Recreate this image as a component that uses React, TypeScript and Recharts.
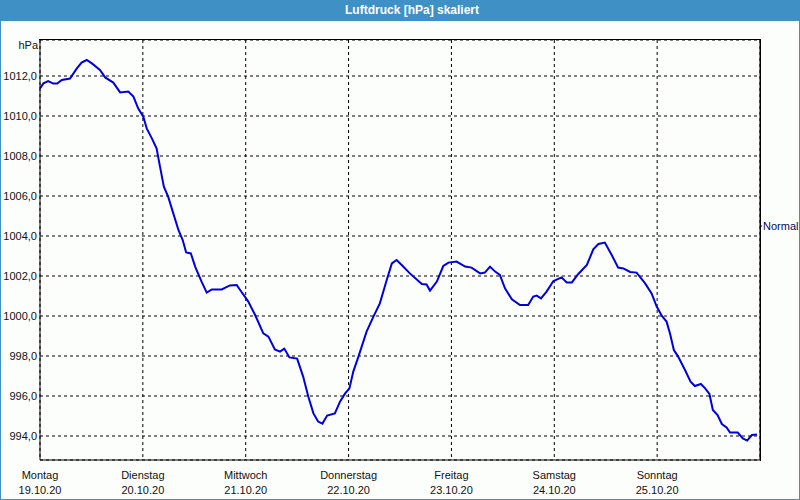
import { CartesianGrid, Line, LineChart, XAxis, YAxis } from "recharts";

// hours since Monday 19.10.20 00:00
const hours = [
  0, 0.8, 1.9, 3.1, 4.0, 5.1, 7.0, 8.6, 9.7, 10.9, 12.1, 14.0, 15.2, 17.1, 18.7, 20.6, 21.8, 22.9,
  24.1, 24.9, 26.1, 27.2, 28.0, 28.9, 29.9, 31.1, 32.3, 33.3, 34.1, 35.2, 36.2, 37.7, 38.9, 40.1,
  42.4, 44.3, 45.9, 46.7, 47.8, 48.6, 50.2, 52.1, 53.3, 54.8, 56.0, 57.0, 58.2, 60.0, 61.4, 62.6,
  63.8, 64.9, 65.9, 67.0, 68.8, 70.0, 71.2, 72.2, 73.1, 74.3, 76.2, 77.8, 79.3, 80.9, 82.1, 83.2,
  84.4, 86.3, 89.1, 90.2, 91.0, 92.6, 94.1, 95.3, 97.2, 99.2, 100.7, 102.7, 103.8, 105.0, 106.2,
  107.3, 108.5, 110.1, 112.0, 113.9, 115.1, 115.9, 116.9, 118.2, 119.8, 121.7, 122.9, 124.1,
  125.6, 127.6, 129.1, 130.3, 131.8, 133.4, 134.9, 136.1, 137.7, 139.2, 141.2, 142.7, 143.9,
  145.1, 146.2, 147.0, 147.9, 148.9, 150.5, 151.8, 152.8, 154.2, 155.2, 156.2, 157.0, 158.1,
  159.1, 160.2, 161.0, 162.8, 164.0, 165.0, 166.1, 167.3,
];

const pressure = [
  1011.38, 1011.63, 1011.75, 1011.62, 1011.62, 1011.8, 1011.87, 1012.38, 1012.67, 1012.8, 1012.63,
  1012.3, 1011.93, 1011.67, 1011.18, 1011.22, 1010.97, 1010.38, 1009.97, 1009.38, 1008.88,
  1008.38, 1007.47, 1006.47, 1005.97, 1005.13, 1004.3, 1003.8, 1003.18, 1003.13, 1002.47,
  1001.72, 1001.17, 1001.33, 1001.33, 1001.53, 1001.55, 1001.3, 1000.97, 1000.72, 1000.05,
  999.13, 998.97, 998.33, 998.22, 998.37, 997.93, 997.87, 996.97, 995.97, 995.13, 994.72, 994.62,
  995.02, 995.13, 995.72, 996.13, 996.38, 997.22, 997.97, 999.22, 999.97, 1000.63, 1001.8,
  1002.63, 1002.8, 1002.55, 1002.13, 1001.6, 1001.58, 1001.27, 1001.72, 1002.5, 1002.67, 1002.72,
  1002.47, 1002.42, 1002.13, 1002.17, 1002.47, 1002.22, 1002.05, 1001.38, 1000.83, 1000.55,
  1000.55, 1000.97, 1001.02, 1000.88, 1001.22, 1001.75, 1001.93, 1001.68, 1001.68, 1002.1,
  1002.55, 1003.33, 1003.6, 1003.67, 1003.05, 1002.42, 1002.38, 1002.2, 1002.17, 1001.63,
  1001.13, 1000.47, 1000.0, 999.72, 999.13, 998.3, 997.97, 997.3, 996.72, 996.5, 996.6, 996.38,
  996.1, 995.3, 995.05, 994.6, 994.43, 994.17, 994.17, 993.88, 993.77, 994.05, 994.08,
];

const dayTicks = [0, 24, 48, 72, 96, 120, 144];
const dayNames = ["Montag", "Dienstag", "Mittwoch", "Donnerstag", "Freitag", "Samstag", "Sonntag"];
const dayDates = ["19.10.20", "20.10.20", "21.10.20", "22.10.20", "23.10.20", "24.10.20", "25.10.20"];
const pressureTicks = [994, 996, 998, 1000, 1002, 1004, 1006, 1008, 1010, 1012];
const normalPressure = [1004.5];

const Y_MIN = 992.8;
const Y_MAX = 1013.8;

const data = hours.map((t, i) => ({ t, p: pressure[i] }));

const FONT = "'Liberation Sans', Arial, sans-serif";

const DayTick = ({ x, y, payload }: any) => {
  const i = dayTicks.indexOf(payload.value);
  return (
    <g transform={`translate(${x},${y})`}>
      <text textAnchor="middle" fontSize={11} fontFamily={FONT} fill="#111">
        <tspan x={0} y={19}>{dayNames[i]}</tspan>
        <tspan x={0} y={34}>{dayDates[i]}</tspan>
      </text>
    </g>
  );
};

export default function App() {
  return (
    <div
      style={{
        position: "fixed",
        left: 0,
        top: 0,
        width: 800,
        height: 500,
        boxSizing: "border-box",
        border: "1px solid #3e90c5",
        background: "#fcfefc",
        fontFamily: FONT,
      }}
    >
      <div
        style={{
          height: 20,
          background: "#3e90c5",
          color: "#fff",
          fontWeight: "bold",
          fontSize: 12,
          lineHeight: "19px",
          textAlign: "center",
          paddingLeft: 24,
        }}
      >
        Luftdruck [hPa] skaliert
      </div>
      <div
        style={{
          position: "absolute",
          left: 0,
          top: 38,
          width: 37,
          textAlign: "right",
          fontSize: 11,
          color: "#111",
        }}
      >
        hPa
      </div>
      <div style={{ position: "absolute", left: -1, top: -1 }}>
        <LineChart width={800} height={500} data={data} margin={{ top: 40, right: 0, bottom: 0, left: 0 }}>
          <CartesianGrid yAxisId="left" stroke="#000" strokeDasharray="3 3" />
          <XAxis
            dataKey="t"
            type="number"
            domain={[0, 168]}
            ticks={dayTicks}
            height={40}
            tickLine={false}
            tickSize={0}
            tickMargin={0}
            tick={<DayTick />}
            axisLine={{ stroke: "#000" }}
            interval={0}
          />
          <YAxis
            yAxisId="left"
            type="number"
            domain={[Y_MIN, Y_MAX]}
            allowDataOverflow
            ticks={pressureTicks}
            width={40}
            tickLine={false}
            tickSize={0}
            tickMargin={3}
            interval={0}
            tickFormatter={(v: number) => v.toFixed(1).replace(".", ",")}
            tick={{ fill: "#111", fontSize: 11, fontFamily: FONT }}
            axisLine={{ stroke: "#000" }}
          />
          <YAxis
            yAxisId="right"
            type="number"
            orientation="right"
            domain={[Y_MIN, Y_MAX]}
            allowDataOverflow
            ticks={normalPressure}
            width={40}
            tickSize={2}
            tickMargin={1}
            interval={0}
            tickLine={{ stroke: "#000" }}
            tickFormatter={() => "Normal"}
            tick={{ fill: "#0a0a50", fontSize: 11, fontFamily: FONT, textAnchor: "start" }}
            axisLine={{ stroke: "#000" }}
          />
          <Line
            yAxisId="left"
            type="linear"
            dataKey="p"
            stroke="#0000dd"
            strokeWidth={2}
            dot={false}
            isAnimationActive={false}
          />
        </LineChart>
      </div>
      {/* solid frame round the plot area */}
      <div
        style={{
          position: "absolute",
          left: 38,
          top: 38,
          width: 721,
          height: 421,
          borderTop: "1px solid #000",
          borderRight: "1px solid #000",
          pointerEvents: "none",
        }}
      />
    </div>
  );
}
